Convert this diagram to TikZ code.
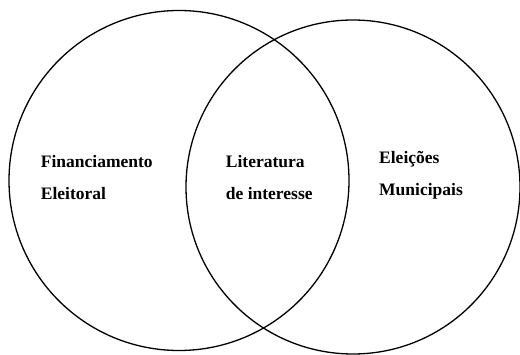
\documentclass[tikz,border=0pt]{standalone}
\usepackage{fontspec}
\setmainfont{Liberation Serif}
\begin{document}
\begin{tikzpicture}[x=1pt,y=-1pt,
  venn/.style={draw=black, line width=1.3pt, circle, inner sep=0pt},
  lbl/.style={anchor=base west, inner sep=0pt, font=\fontsize{17.5}{20}\selectfont\bfseries}]
\useasboundingbox (0,0) rectangle (520,355);
\node[venn, minimum size=340pt] (L) at (179,180.5) {};
\node[venn, minimum size=334pt] (R) at (353,187) {};
\node[lbl] (f1) at (40.7,168) {Financiamento};
\node[lbl] (f2) at (40.7,199.5) {Eleitoral};
\node[lbl] (m1) at (225.7,168) {Literatura};
\node[lbl] (m2) at (225.7,199.5) {de interesse};
\node[lbl] (r1) at (379,164) {Eleições};
\node[lbl] (r2) at (379,195.5) {Municipais};
\end{tikzpicture}
\end{document}
